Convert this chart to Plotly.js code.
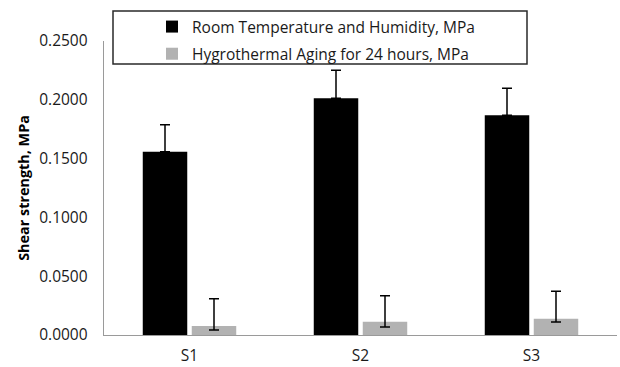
<!DOCTYPE html>
<html><head><meta charset="utf-8">
<script src="https://cdn.plot.ly/plotly-3.0.1.min.js"></script>
<style>html,body{margin:0;padding:0;background:#fff}#chart{width:620px;height:367px}</style>
</head><body><div id="chart"></div>
<script>
const categories = ["S1", "S2", "S3"];
const roomValues = [0.1559, 0.2013, 0.1868];
const roomErrors = [0.0229, 0.0238, 0.0230];
const agingValues = [0.0077, 0.0113, 0.0139];
const agingErrPlus = [0.0232, 0.0221, 0.0233];
const agingErrMinus = [0.0034, 0.0045, 0.0028];
const seriesNames = ["Room Temperature and Humidity, MPa", "Hygrothermal Aging for 24 hours, MPa"];
const yTicks = [0, 0.05, 0.1, 0.15, 0.2, 0.25];
const yTickText = ["0.0000", "0.0500", "0.1000", "0.1500", "0.2000", "0.2500"];

const font = "Open Sans, sans-serif";
const traces = [
  {type: "bar", x: categories, y: roomValues, name: seriesNames[0], legendgroup: "a",
   marker: {color: "#000000", line: {width: 0}},
   error_y: {type: "data", array: roomErrors, arrayminus: [0, 0, 0], symmetric: false,
             color: "#000000", thickness: 1.5, width: 5}},
  {type: "bar", x: categories, y: agingValues, name: seriesNames[1], legendgroup: "b",
   marker: {color: "#b2b2b2", line: {width: 0}},
   error_y: {type: "data", array: agingErrPlus, arrayminus: agingErrMinus, symmetric: false,
             color: "#000000", thickness: 1.5, width: 5}}
];
const M = {l: 104, r: 3, t: 41, b: 32};
const W = 620, H = 367;
const pw = W - M.l - M.r, ph = H - M.t - M.b;
function px(x) { return (x - M.l) / pw; }
function py(y) { return (H - M.b - y) / ph; }
const layout = {
  width: W, height: H,
  margin: M,
  paper_bgcolor: "#fff", plot_bgcolor: "#fff",
  barmode: "group", bargap: 0.427, bargroupgap: 0.092,
  font: {family: font, size: 15.5, color: "#1a1a1a"},
  xaxis: {showline: true, linecolor: "#9a9a9a", linewidth: 1.3, ticks: "", showgrid: false,
          tickfont: {size: 15.5}, ticklabelstandoff: 6},
  yaxis: {range: [0, 0.25], tickvals: yTicks, ticktext: yTickText, showline: true, linecolor: "#9a9a9a",
          linewidth: 1.3, ticks: "", showgrid: false, zeroline: false, tickfont: {size: 15.5}, ticklabelstandoff: 12,
          title: {text: "<b>Shear strength, MPa</b>", font: {size: 14.4, color: "#000"}, standoff: 6}},
  showlegend: true,
  legend: {x: px(152), y: py(10), xanchor: "left", yanchor: "top", traceorder: "grouped", tracegroupgap: 4,
           bgcolor: "rgba(0,0,0,0)", borderwidth: 0, font: {size: 15.5, color: "#1a1a1a"}},
  shapes: [{type: "rect", xref: "paper", yref: "paper", x0: px(113), x1: px(527), y0: py(64), y1: py(11),
            line: {color: "#2a2a2a", width: 1.5}, fillcolor: "rgba(0,0,0,0)"}]
};
Plotly.newPlot("chart", traces, layout, {displayModeBar: false, staticPlot: true});
</script></body></html>
